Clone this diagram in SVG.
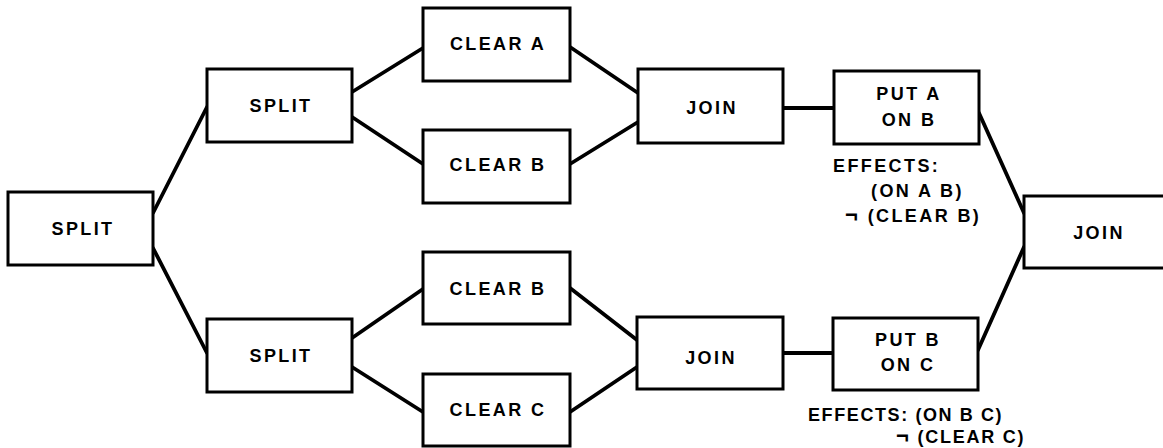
<svg xmlns="http://www.w3.org/2000/svg" width="1163" height="448" viewBox="0 0 1163 448">
<style>
rect.n{fill:#fff;stroke:#000;stroke-width:3}
text{font-family:"Liberation Sans",Arial,sans-serif;font-size:18px;font-weight:bold;letter-spacing:2.4px;fill:#000}
text.c{text-anchor:middle}
#connectors line{stroke:#000;stroke-width:3.8;stroke-linecap:round}
</style>
<rect width="1163" height="448" fill="#fff"/>
<g id="connectors">
<line x1="153" y1="213" x2="207" y2="107"/>
<line x1="153" y1="248" x2="207" y2="353"/>
<line x1="352" y1="92" x2="423" y2="48"/>
<line x1="352" y1="117" x2="423" y2="164"/>
<line x1="570" y1="47" x2="638" y2="93"/>
<line x1="570" y1="164" x2="638" y2="122"/>
<line x1="783" y1="108" x2="834" y2="108"/>
<line x1="979" y1="113" x2="1024" y2="213"/>
<line x1="352" y1="338" x2="423" y2="289"/>
<line x1="352" y1="367" x2="423" y2="412"/>
<line x1="570" y1="288" x2="637" y2="340"/>
<line x1="570" y1="412" x2="637" y2="367"/>
<line x1="783" y1="353" x2="833" y2="353"/>
<line x1="978" y1="350" x2="1024" y2="247"/>
</g>
<g id="split0"><rect class="n" x="8" y="192" width="145" height="73"/><text class="c" x="83" y="235">SPLIT</text></g>
<g id="split1"><rect class="n" x="207" y="69" width="145" height="73"/><text class="c" x="281" y="112">SPLIT</text></g>
<g id="split2"><rect class="n" x="207" y="319" width="145" height="73"/><text class="c" x="281" y="362">SPLIT</text></g>
<g id="clearA"><rect class="n" x="423" y="8" width="147" height="73"/><text class="c" x="498" y="50">CLEAR A</text></g>
<g id="clearB1"><rect class="n" x="423" y="130" width="147" height="73"/><text class="c" x="498" y="171">CLEAR B</text></g>
<g id="clearB2"><rect class="n" x="423" y="252" width="147" height="72"/><text class="c" x="498" y="295">CLEAR B</text></g>
<g id="clearC"><rect class="n" x="423" y="374" width="147" height="72"/><text class="c" x="498" y="416">CLEAR C</text></g>
<g id="join1"><rect class="n" x="638" y="69" width="145" height="74"/><text class="c" x="712" y="114">JOIN</text></g>
<g id="join2"><rect class="n" x="637" y="317" width="146" height="72"/><text class="c" x="711" y="364">JOIN</text></g>
<g id="putA"><rect class="n" x="834" y="71" width="145" height="73"/><text class="c" x="909" y="100">PUT A</text><text class="c" x="909" y="126">ON B</text></g>
<g id="putB"><rect class="n" x="833" y="318" width="145" height="72"/><text class="c" x="908" y="346">PUT B</text><text class="c" x="908" y="371">ON C</text></g>
<g id="join3"><rect class="n" x="1024" y="196" width="146" height="72"/><text class="c" x="1099" y="239">JOIN</text></g>
<g id="effectsA">
<text x="833" y="172">EFFECTS:</text>
<text x="871" y="197">(ON A B)</text>
<text x="845" y="222"><tspan font-size="22">¬</tspan> (CLEAR B)</text>
</g>
<g id="effectsB">
<text x="808" y="421" textLength="196" lengthAdjust="spacing">EFFECTS: (ON B C)</text>
<text x="896" y="443" textLength="130" lengthAdjust="spacing"><tspan font-size="22">¬</tspan> (CLEAR C)</text>
</g>
</svg>
